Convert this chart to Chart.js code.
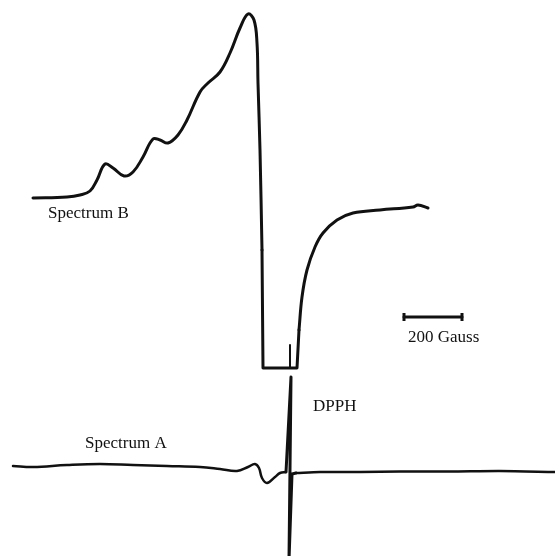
<!DOCTYPE html>
<html>
<head>
<meta charset="utf-8">
<script src="https://cdn.jsdelivr.net/npm/chart.js@4.4.1/dist/chart.umd.min.js"></script>
<style>
  html, body { margin: 0; padding: 0; background: #fff; }
  #wrap { width: 555px; height: 556px; }
</style>
</head>
<body>
<div id="wrap"><canvas id="spectra" width="555" height="556"></canvas></div>
<script>
// field positions (trace units, left to right) and signal levels (down is larger)
const bFieldRise = [33, 67, 80, 90, 97, 105, 113, 124, 133, 143, 153, 160, 168, 178, 187, 200, 208, 220, 230, 240, 248, 254, 257, 258, 260, 262];
const bSignalRise = [198, 197, 195, 191, 180, 164, 168, 176, 172, 157, 139, 140, 143, 135, 120, 92, 83, 72, 53, 28, 14, 20, 43, 83, 150, 250];
const bFieldFloor = [262, 263, 297, 299];
const bSignalFloor = [250, 368, 368, 330];
const bFieldTail = [299, 302, 307, 315, 323, 337, 353, 380, 413, 418, 428];
const bSignalTail = [330, 297, 270, 247, 233, 220, 213, 210, 207, 205, 208];

const aFieldLeft = [13, 33, 67, 100, 133, 167, 200, 220, 237, 248, 255, 259, 262, 267, 275, 280, 286];
const aSignalLeft = [466, 467, 465, 464, 465, 466, 467, 469, 471, 467, 464, 468, 478, 483, 477, 473, 472];
const aFieldDpph = [286, 291, 289, 292, 296];
const aSignalDpph = [472, 377, 560, 474, 473];
const aFieldRight = [296, 320, 360, 400, 450, 500, 555];
const aSignalRight = [473, 472, 472, 471.5, 471.5, 471, 472];

// DPPH marker inside the spectrum B floor
const markField = [290, 290];
const markSignal = [345, 368];

// 200 Gauss scale bar ends
const scaleBarField = [404, 462];
const scaleBarSignal = [317, 317];

const labels = ['Spectrum B', 'Spectrum A', 'DPPH', '200 Gauss'];
const labelField = [48, 85, 313, 408];
const labelSignal = [218, 448, 411, 342];

const ink = '#111';

function pts(xs, ys) {
  return xs.map((x, i) => ({ x: x, y: ys[i] }));
}

function trace(xs, ys, width, tension) {
  return {
    type: 'line',
    data: pts(xs, ys),
    borderColor: ink,
    borderWidth: width,
    tension: tension,
    pointRadius: 0,
    fill: false,
    borderCapStyle: 'round',
    borderJoinStyle: 'round'
  };
}

const textPlugin = {
  id: 'traceLabels',
  afterDatasetsDraw(chart) {
    const ctx = chart.ctx;
    const xs = chart.scales.x;
    const ys = chart.scales.y;
    ctx.save();
    ctx.fillStyle = ink;
    ctx.font = '17px "Liberation Serif", "DejaVu Serif", serif';
    ctx.textBaseline = 'alphabetic';
    labels.forEach((t, i) => {
      ctx.fillText(t, xs.getPixelForValue(labelField[i]), ys.getPixelForValue(labelSignal[i]));
    });
    ctx.restore();
  }
};

const scaleBar = trace(scaleBarField, scaleBarSignal, 3, 0);
scaleBar.pointRadius = 4;
scaleBar.pointStyle = 'line';
scaleBar.rotation = 90;
scaleBar.pointBorderWidth = 3;
scaleBar.pointBorderColor = ink;

new Chart(document.getElementById('spectra').getContext('2d'), {
  type: 'line',
  data: {
    datasets: [
      trace(bFieldRise, bSignalRise, 3, 0.4),
      trace(bFieldFloor, bSignalFloor, 3, 0),
      trace(bFieldTail, bSignalTail, 3, 0.4),
      trace(markField, markSignal, 2, 0),
      trace(aFieldLeft, aSignalLeft, 2.5, 0.4),
      trace(aFieldDpph, aSignalDpph, 3, 0),
      trace(aFieldRight, aSignalRight, 2.5, 0.3),
      scaleBar
    ]
  },
  options: {
    responsive: false,
    animation: false,
    layout: { padding: 0, autoPadding: false },
    plugins: {
      legend: { display: false },
      tooltip: { enabled: false },
      title: { display: false }
    },
    scales: {
      x: { type: 'linear', min: 0, max: 555, display: false },
      y: { type: 'linear', min: 0, max: 556, reverse: true, display: false }
    }
  },
  plugins: [textPlugin]
});
</script>
</body>
</html>
